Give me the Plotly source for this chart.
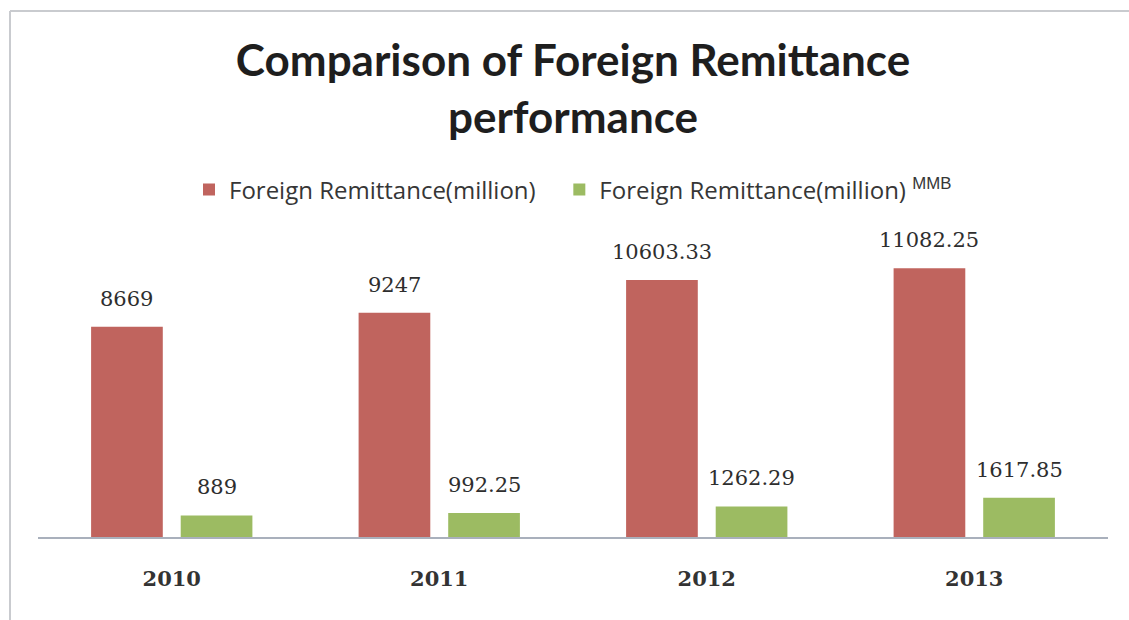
import plotly.graph_objects as go

# Data
years = ["2010", "2011", "2012", "2013"]
remittance_total = [8669, 9247, 10603.33, 11082.25]
remittance_mmb = [889, 992.25, 1262.29, 1617.85]
total_labels = ["8669", "9247", "10603.33", "11082.25"]
mmb_labels = ["889", "992.25", "1262.29", "1617.85"]

# Layout geometry
W, H = 1129, 620
M_L, M_R, M_T, M_B = 38, 21, 240, 83
BARGAP = 0.33
Y_MAX = 12252

RED = "#C0645E"
GREEN = "#9CBB62"

fig = go.Figure()
fig.add_trace(go.Bar(
    x=years, y=remittance_total,
    # trailing non-breaking spaces widen the gap before the next legend entry
    name="Foreign Remittance(million)\u00a0\u00a0\u00a0",
    marker=dict(color=RED, line=dict(width=0)),
))
fig.add_trace(go.Bar(
    x=years, y=remittance_mmb,
    name="Foreign Remittance(million) <sup><span style='font-family:Liberation Sans'>MMB</span></sup>",
    marker=dict(color=GREEN, line=dict(width=0)),
))

# value labels above each bar; x is the category index, shifted to the bar's slot
plot_w = W - M_L - M_R
cat_w = plot_w / len(years)
slot = (1 - BARGAP) * cat_w / 2
label_font = dict(family="DejaVu Serif", size=21, color="#2e2e2e")
annotations = []
for i, (v, t) in enumerate(zip(remittance_total, total_labels)):
    annotations.append(dict(x=i, y=v, text=t, xref="x", yref="y", showarrow=False,
                            xshift=-slot / 2, yshift=28, yanchor="middle", font=label_font))
for i, (v, t) in enumerate(zip(remittance_mmb, mmb_labels)):
    annotations.append(dict(x=i, y=v, text=t, xref="x", yref="y", showarrow=False,
                            xshift=slot / 2, yshift=28, yanchor="middle", font=label_font))

# frame lines along the top and left edges
plot_h = H - M_T - M_B
def px_x(p):
    return (p - M_L) / plot_w
def px_y(p):
    return (H - M_B - p) / plot_h

shapes = [
    dict(type="line", xref="paper", yref="paper", x0=px_x(10), x1=px_x(W + 5),
         y0=px_y(11), y1=px_y(11), line=dict(color="#C9CBCF", width=2)),
    dict(type="line", xref="paper", yref="paper", x0=px_x(10), x1=px_x(10),
         y0=px_y(11), y1=px_y(H + 5), line=dict(color="#C9CBCF", width=2)),
]

fig.update_layout(
    width=W, height=H,
    margin=dict(l=M_L, r=M_R, t=M_T, b=M_B, autoexpand=False),
    paper_bgcolor="white", plot_bgcolor="white",
    barmode="group", bargap=BARGAP, bargroupgap=0.2,
    title=dict(
        text="<b>Comparison of Foreign Remittance<br>performance</b>",
        x=0.5, xref="paper", xanchor="center",
        y=1 - 76 / H, yref="container", yanchor="top",
        font=dict(family="Lato", size=44, color="#1e1e1e"),
    ),
    legend=dict(
        orientation="h", x=0.5, xanchor="center",
        y=px_y(190), yanchor="middle",
        font=dict(family="Open Sans", size=24, color="#363636"),
        bgcolor="rgba(0,0,0,0)",
    ),
    xaxis=dict(
        type="category", categoryorder="array", categoryarray=years,
        range=[-0.5, len(years) - 0.5], autorange=False,
        showline=True, linecolor="#A9B0BC", linewidth=2,
        showgrid=False, zeroline=False,
        ticks="outside", ticklen=22, tickcolor="rgba(0,0,0,0)",
        tickfont=dict(family="DejaVu Serif", size=21, color="#333333", weight="bold"),
        fixedrange=True,
    ),
    yaxis=dict(visible=False, range=[0, Y_MAX], autorange=False, fixedrange=True),
    annotations=annotations,
    shapes=shapes,
    showlegend=True,
)

fig.write_html("out.html", config={"displayModeBar": False})
